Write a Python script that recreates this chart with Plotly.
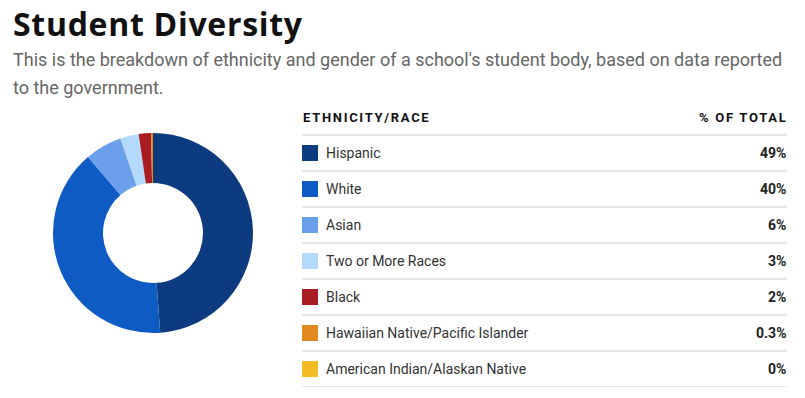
import plotly.graph_objects as go

categories = ["Hispanic", "White", "Asian", "Two or More Races", "Black",
              "Hawaiian Native/Pacific Islander", "American Indian/Alaskan Native"]
values = [49, 40, 6, 3, 2, 0.3, 0]
value_labels = ["49%", "40%", "6%", "3%", "2%", "0.3%", "0%"]
colors = ["#0D3B80", "#0F5BC4", "#6A9FEB", "#B3D9FC", "#A81C22", "#E08A20", "#F2BD24"]

title_text = "Student Diversity"
subtitle_1 = "This is the breakdown of ethnicity and gender of a school's student body, based on data reported"
subtitle_2 = "to the government."
header_left = "ETHNICITY/RACE"
header_right = "% OF TOTAL"

W, H = 805, 398

fig = go.Figure()

# Donut
fig.add_trace(go.Pie(
    values=values, labels=categories, sort=False, direction="clockwise", rotation=0,
    hole=0.5, textinfo="none", hoverinfo="label+percent",
    marker=dict(colors=colors, line=dict(width=0)),
    domain=dict(x=[53 / W, 253 / W], y=[(H - 333) / H, (H - 133) / H]),
    showlegend=False,
))

# Table swatches on an overlay axis (x in px units, y = row index)
rows = list(range(len(categories)))
fig.add_trace(go.Scatter(
    x=[8] * len(categories), y=rows, mode="markers",
    marker=dict(symbol="square", size=16, color=colors, line=dict(width=0)),
    hoverinfo="skip", showlegend=False, xaxis="x", yaxis="y",
))

fig.update_layout(
    width=W, height=H, margin=dict(l=0, r=0, t=0, b=0),
    paper_bgcolor="white", plot_bgcolor="rgba(0,0,0,0)",
    xaxis=dict(domain=[292 / W, 797 / W], range=[-10, 495], visible=False, fixedrange=True),
    yaxis=dict(domain=[(H - 387) / H, (H - 99) / H], range=[6.5, -1.5], visible=False, fixedrange=True),
    font=dict(family="Roboto", color="#333333"),
)

ann = []
ann.append(dict(text="<b>" + title_text + "</b>", x=11 / W, y=1 - 0 / H, xref="paper", yref="paper",
                xanchor="left", yanchor="top", align="left", showarrow=False,
                font=dict(family="Open Sans", size=32, color="#111111")))
ann.append(dict(text=subtitle_1, x=11 / W, y=1 - 59 / H, xref="paper", yref="paper",
                xanchor="left", yanchor="middle", showarrow=False,
                font=dict(family="Roboto", size=18, color="#666666")))
ann.append(dict(text=subtitle_2, x=11 / W, y=1 - 87 / H, xref="paper", yref="paper",
                xanchor="left", yanchor="middle", showarrow=False,
                font=dict(family="Roboto", size=18, color="#666666")))
# headers
ann.append(dict(text="<b>" + header_left + "</b>", x=-1, y=-1, xref="x", yref="y",
                xanchor="left", yanchor="middle", align="left", showarrow=False,
                font=dict(family="Roboto", size=13, color="#111111")))
ann.append(dict(text="<b>" + header_right + "</b>", x=487, y=-1, xref="x", yref="y",
                xanchor="right", yanchor="middle", align="right", showarrow=False,
                font=dict(family="Roboto", size=13, color="#111111")))
for i, (c, v) in enumerate(zip(categories, value_labels)):
    ann.append(dict(text=c, x=22, y=i, xref="x", yref="y", xanchor="left", yanchor="middle",
                    showarrow=False, font=dict(family="Roboto", size=14, color="#333333")))
    ann.append(dict(text="<b>" + v + "</b>", x=486, y=i, xref="x", yref="y", xanchor="right",
                    yanchor="middle", showarrow=False, font=dict(family="Roboto", size=14, color="#222222")))
fig.update_layout(annotations=ann)

shapes = []
for k in range(len(categories) + 1):
    shapes.append(dict(type="line", xref="x", yref="y", x0=0, x1=485, y0=k - 0.5, y1=k - 0.5,
                       line=dict(color="#CCCCCC", width=1)))
fig.update_layout(shapes=shapes)

post_js = """
document.body.style.margin = '0';
document.querySelectorAll('text.annotation-text').forEach(function (t) {
  var s = t.textContent;
  if (s === 'ETHNICITY/RACE' || s === '% OF TOTAL') {
    t.style.letterSpacing = '1.7px';
  }
  if (s === 'Student Diversity') {
    t.style.letterSpacing = '0.7px';
  }
});
"""

fig.write_html("out.html", config={"displayModeBar": False}, post_script=post_js)
